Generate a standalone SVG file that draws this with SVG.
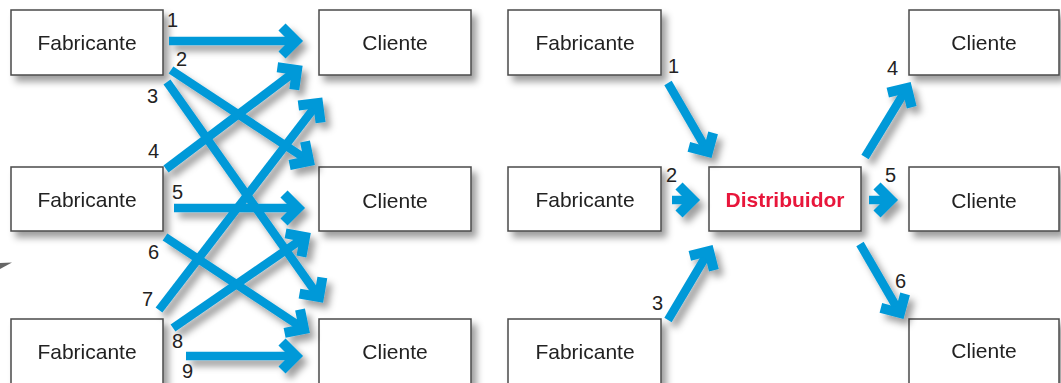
<svg xmlns="http://www.w3.org/2000/svg" width="1061" height="383" viewBox="0 0 1061 383">
<defs>
<filter id="sh" x="-20%" y="-20%" width="150%" height="160%">
<feDropShadow dx="5" dy="6" stdDeviation="3.5" flood-color="#000" flood-opacity="0.38"/>
</filter>
<filter id="ash" x="-20%" y="-20%" width="150%" height="150%">
<feDropShadow dx="5" dy="6" stdDeviation="3.5" flood-color="#000" flood-opacity="0.38"/>
</filter>
<marker id="head" markerUnits="userSpaceOnUse" viewBox="-25 -25 30 50" markerWidth="30" markerHeight="50" refX="0" refY="0" orient="auto" overflow="visible">
<path d="M-14,-14 L0,0 L-14,14" fill="none" stroke="#0099D8" stroke-width="10" stroke-linejoin="miter" stroke-miterlimit="10"/>
</marker>
</defs>
<style>
.box{fill:#fff;stroke:#4a4a4a;stroke-width:1.5}
.t{font-family:"Liberation Sans",Arial,sans-serif;font-size:21px;fill:#222;text-anchor:middle}
.d{font-family:"Liberation Sans",Arial,sans-serif;font-size:21px;font-weight:bold;fill:#E8173B;text-anchor:middle}
.n{font-family:"Liberation Sans",Arial,sans-serif;font-size:20px;fill:#222}
.a{fill:none;stroke:#0099D8;stroke-width:8.5;stroke-linecap:butt;marker-end:url(#head)}
</style>
<rect width="1061" height="383" fill="#fff"/>

<g id="left-nodes" filter="url(#sh)">
<g id="lf1"><rect class="box" x="11" y="10" width="152" height="65"/><text class="t" x="87" y="50">Fabricante</text></g>
<g id="lf2"><rect class="box" x="11" y="167" width="152" height="64"/><text class="t" x="87" y="207">Fabricante</text></g>
<g id="lf3"><rect class="box" x="11" y="319" width="152" height="80"/><text class="t" x="87" y="359">Fabricante</text></g>
<g id="lc1"><rect class="box" x="319" y="10" width="152" height="65"/><text class="t" x="395" y="50">Cliente</text></g>
<g id="lc2"><rect class="box" x="319" y="167" width="152" height="64"/><text class="t" x="395" y="208">Cliente</text></g>
<g id="lc3"><rect class="box" x="319" y="319" width="152" height="80"/><text class="t" x="395" y="359">Cliente</text></g>
</g>

<g id="right-nodes" filter="url(#sh)">
<g id="rf1"><rect class="box" x="508" y="10" width="153" height="65"/><text class="t" x="585" y="50">Fabricante</text></g>
<g id="rf2"><rect class="box" x="508" y="167" width="153" height="64"/><text class="t" x="585" y="207">Fabricante</text></g>
<g id="rf3"><rect class="box" x="508" y="319" width="153" height="80"/><text class="t" x="585" y="359">Fabricante</text></g>
<g id="dist"><rect class="box" x="709" y="167" width="152" height="64"/><text class="d" x="785" y="207">Distribuidor</text></g>
<g id="rc1"><rect class="box" x="909" y="10" width="150" height="65"/><text class="t" x="984" y="50">Cliente</text></g>
<g id="rc2"><rect class="box" x="909" y="167" width="150" height="64"/><text class="t" x="984" y="208">Cliente</text></g>
<g id="rc3"><rect class="box" x="909" y="319" width="150" height="80"/><text class="t" x="984" y="358">Cliente</text></g>
</g>

<g id="connectors" filter="url(#ash)">
<line class="a" x1="169" y1="41" x2="296" y2="41"/>
<line class="a" x1="171" y1="70" x2="309" y2="161"/>
<line class="a" x1="167" y1="82" x2="319" y2="297"/>
<line class="a" x1="166" y1="169" x2="297" y2="70"/>
<line class="a" x1="174" y1="208" x2="298" y2="208"/>
<line class="a" x1="165" y1="237" x2="304" y2="329"/>
<line class="a" x1="159" y1="310" x2="318" y2="103"/>
<line class="a" x1="173" y1="328" x2="305" y2="237"/>
<line class="a" x1="186" y1="356" x2="296" y2="356"/>

<line class="a" x1="668" y1="83" x2="708" y2="152"/>
<line class="a" x1="672" y1="200" x2="693" y2="200"/>
<line class="a" x1="668" y1="320" x2="709" y2="251"/>
<line class="a" x1="865" y1="157" x2="907" y2="88"/>
<line class="a" x1="869" y1="200" x2="891" y2="200"/>
<line class="a" x1="860" y1="244" x2="900" y2="313"/>
</g>

<g id="labels">
<text class="n" x="167" y="27">1</text>
<text class="n" x="176" y="66">2</text>
<text class="n" x="147" y="103">3</text>
<text class="n" x="148" y="158">4</text>
<text class="n" x="172" y="199">5</text>
<text class="n" x="148" y="259">6</text>
<text class="n" x="142" y="306">7</text>
<text class="n" x="172" y="348">8</text>
<text class="n" x="182" y="378">9</text>
<text class="n" x="668" y="73">1</text>
<text class="n" x="666" y="182">2</text>
<text class="n" x="652" y="310">3</text>
<text class="n" x="887" y="75">4</text>
<text class="n" x="885" y="182">5</text>
<text class="n" x="895" y="288">6</text>
</g>

<polygon points="0,263 12,262.5 0,269" fill="#666"/>
</svg>
